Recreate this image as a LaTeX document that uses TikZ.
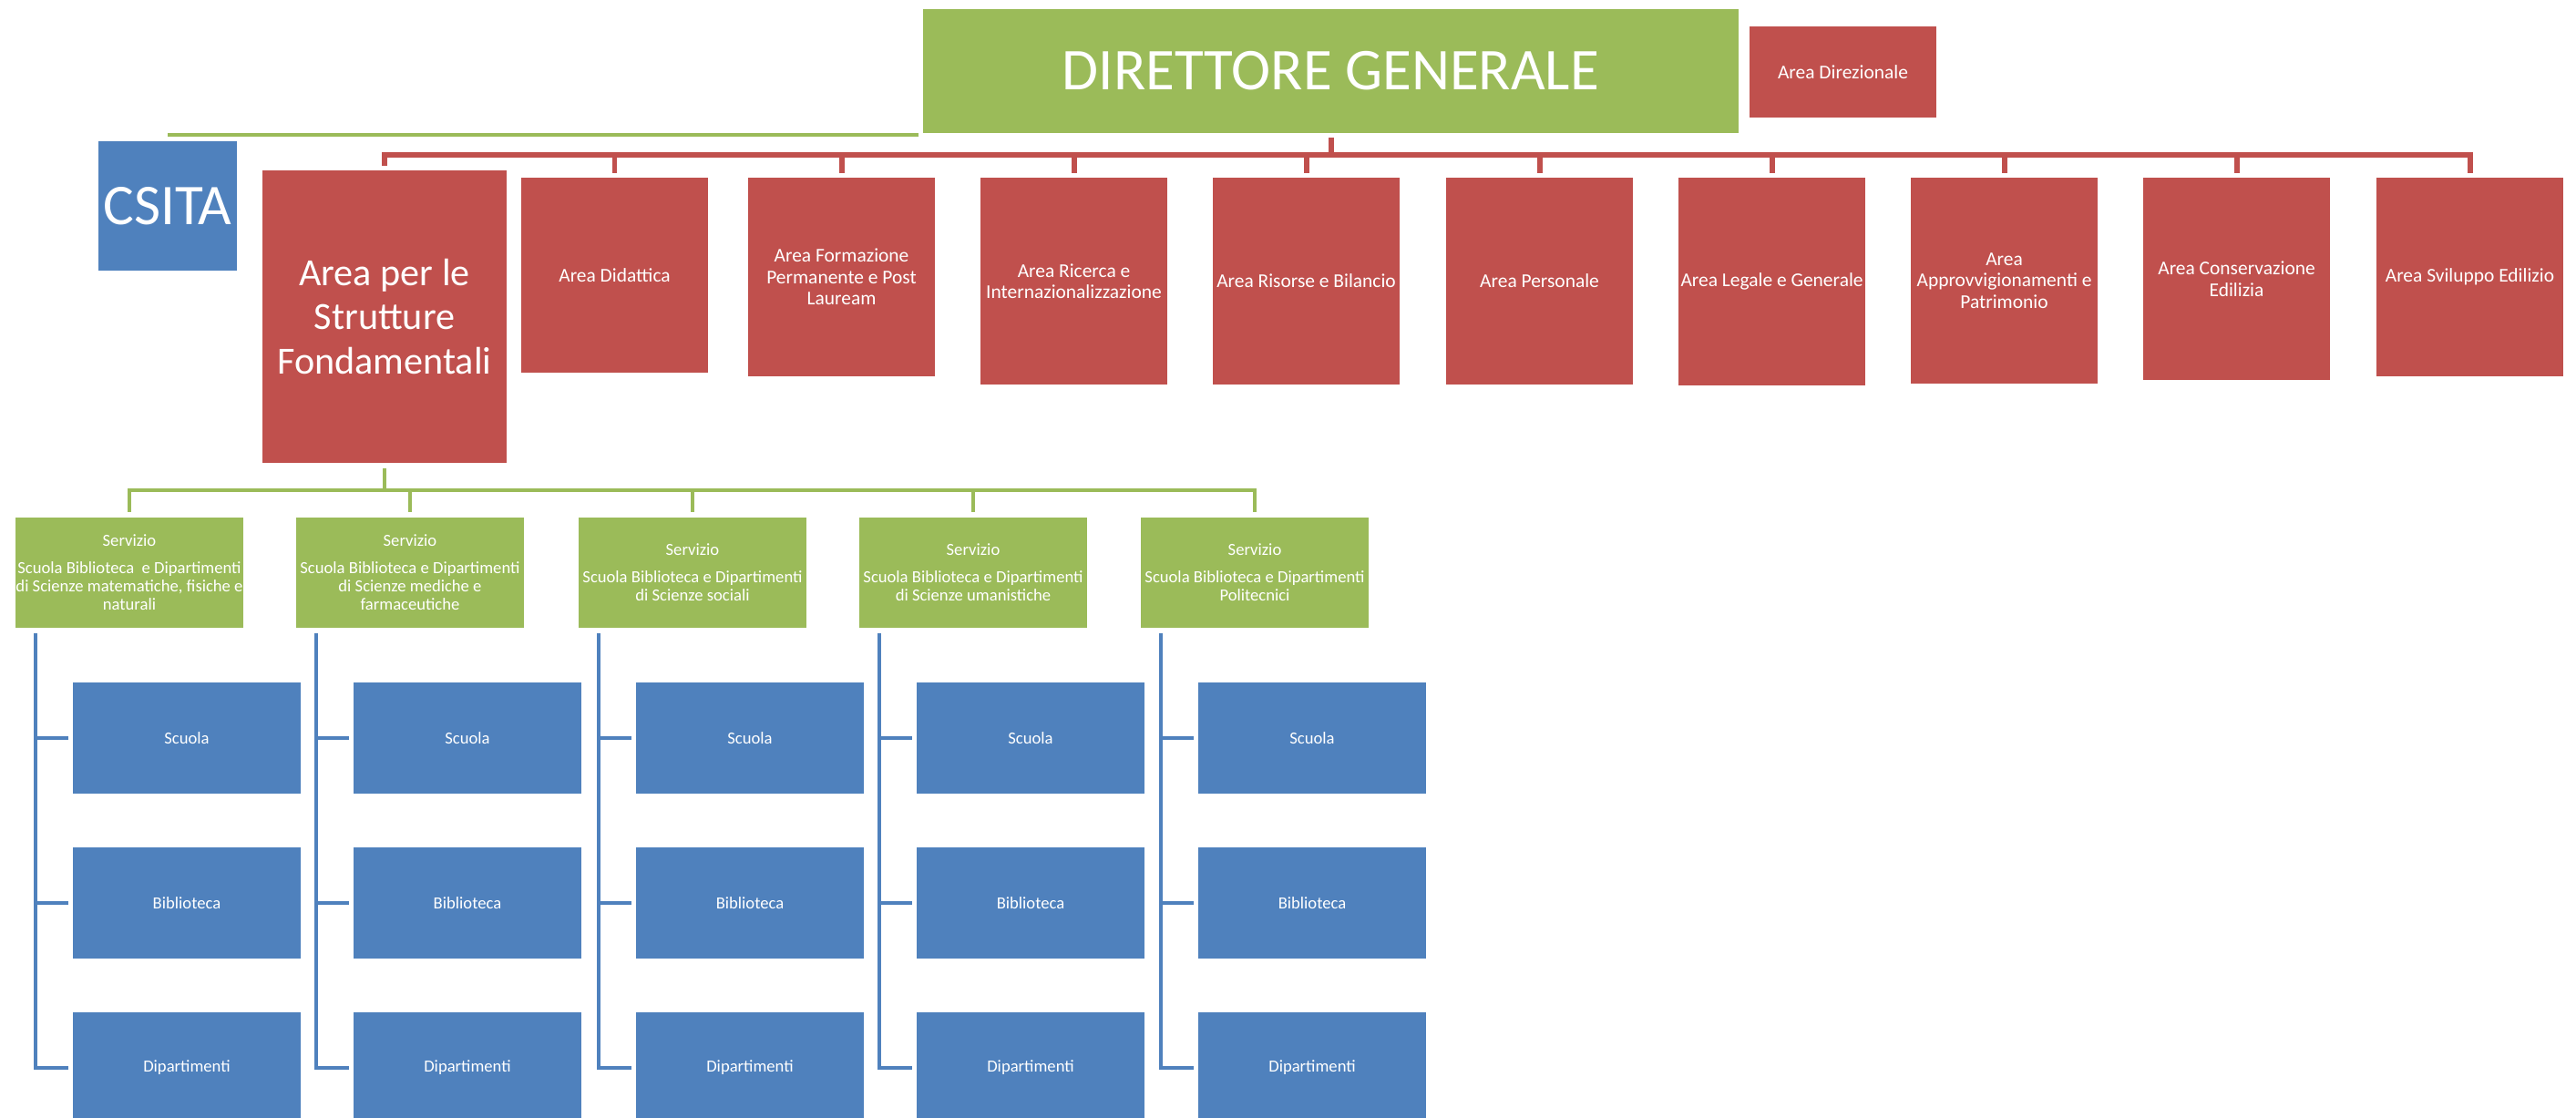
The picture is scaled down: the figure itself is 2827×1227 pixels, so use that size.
\documentclass[tikz,border=0pt]{standalone}
\usepackage{fontspec}
\setmainfont{Carlito}
\usetikzlibrary{calc}

\definecolor{orgGreen}{HTML}{9BBB59}
\definecolor{orgRed}{HTML}{C0504D}
\definecolor{orgBlue}{HTML}{4F81BD}

\begin{document}
\begin{tikzpicture}[x=0.1mm, y=-0.1mm,
	every node/.style={text=white, inner sep=0pt, outer sep=0pt, align=center},
	orgbox/.style={fill=#1, minimum width=20.5mm},
	redbox/.style={orgbox=orgRed, anchor=north, font=\fontsize{6.1}{6.7}\selectfont},
	servbox/.style={orgbox=orgGreen, minimum width=25mm, minimum height=12.1mm, font=\fontsize{5.3}{5.7}\selectfont},
	unitbox/.style={orgbox=orgBlue, minimum width=25mm, minimum height=12.2mm, font=\fontsize{5.3}{6}\selectfont},
	rline/.style={orgRed, line width=1.7pt},
	gline/.style={orgGreen, line width=1.4pt},
	bline/.style={orgBlue, line width=1.4pt}]
	\useasboundingbox (0,0) rectangle (2827,1227);

	\node[orgbox=orgGreen, minimum width=89.5mm, minimum height=13.6mm, font=\fontsize{18.5}{20}\selectfont] (dg) at (1460.5,78) {DIRETTORE GENERALE};
	\node[orgbox=orgRed, minimum height=10mm, font=\fontsize{6.1}{6.7}\selectfont] (direz) at (2022.5,79) {Area Direzionale};
	\node[orgbox=orgBlue, minimum width=15.2mm, minimum height=14.2mm, font=\fontsize{18}{20}\selectfont] (csita) at (184,226) {CSITA};
	\node[orgbox=orgRed, anchor=north, minimum width=26.8mm, minimum height=32.1mm, font=\fontsize{12}{13.7}\selectfont] (asf) at (422,187) {Area per le\\Strutture\\Fondamentali};

	\foreach \n/\cx/\h/\txt in {a1/674.5/21.4/{Area Didattica},
		a2/923.5/21.8/{Area Formazione\\Permanente e Post\\Lauream},
		a3/1178.5/22.7/{Area Ricerca e\\Internazionalizzazione},
		a4/1433.5/22.7/{Area Risorse e Bilancio},
		a5/1689.5/22.7/{Area Personale},
		a6/1944.5/22.8/{Area Legale e Generale},
		a7/2199.5/22.6/{Area\\Approvvigionamenti e\\Patrimonio},
		a8/2454.5/22.2/{Area Conservazione\\Edilizia},
		a9/2710.5/21.8/{Area Sviluppo Edilizio}}
		\node[redbox, minimum height=\h mm] (\n) at (\cx,195) {\txt};

	\foreach \i/\cx/\txt in {1/142/{Scuola Biblioteca\ \ e Dipartimenti\\di Scienze matematiche, fisiche e\\naturali},
		2/450/{Scuola Biblioteca e Dipartimenti\\di Scienze mediche e\\farmaceutiche},
		3/760/{Scuola Biblioteca e Dipartimenti\\di Scienze sociali},
		4/1068/{Scuola Biblioteca e Dipartimenti\\di Scienze umanistiche},
		5/1377/{Scuola Biblioteca e Dipartimenti\\Politecnici}}
		\node[servbox] (s\i) at (\cx,628.5) {Servizio\\[2.8pt]\txt};

	\foreach \i in {1,...,5} {
		\node[unitbox] (sc\i) at ($(s\i.center)+(63,181.5)$) {Scuola};
		\node[unitbox] (bib\i) at ($(s\i.center)+(63,362.5)$) {Biblioteca};
		\node[unitbox] (dip\i) at ($(s\i.center)+(63,543.5)$) {Dipartimenti};
		\coordinate (top\i) at ($(s\i.south west)+(22,6)$);
		\draw[bline, shorten >=1.4pt] (top\i) |- (dip\i.west);
		\draw[bline, shorten >=1.4pt] (top\i |- sc\i.west) -- (sc\i.west);
		\draw[bline, shorten >=1.4pt] (top\i |- bib\i.west) -- (bib\i.west);
	}

	\coordinate (gtop) at ($(dg.south west)+(-5,2)$);
	\draw[gline] (gtop) -- (gtop -| csita.north);

	\coordinate (rbus) at (0,170);
	\draw[rline, shorten <=1.4pt] (dg.south) -- (dg.south |- rbus);
	\draw[rline, line cap=rect] (asf.north |- rbus) -- (a9.north |- rbus);
	\foreach \n in {asf,a1,a2,a3,a4,a5,a6,a7,a8,a9}
		\draw[rline, shorten >=1.4pt] (\n.north |- rbus) -- (\n.north);

	\coordinate (gbus) at (0,538);
	\draw[gline, shorten <=1.7pt] (asf.south) -- (asf.south |- gbus);
	\draw[gline, line cap=rect] (s1.north |- gbus) -- (s5.north |- gbus);
	\foreach \i in {1,...,5}
		\draw[gline, shorten >=1.7pt] (s\i.north |- gbus) -- (s\i.north);
\end{tikzpicture}
\end{document}
